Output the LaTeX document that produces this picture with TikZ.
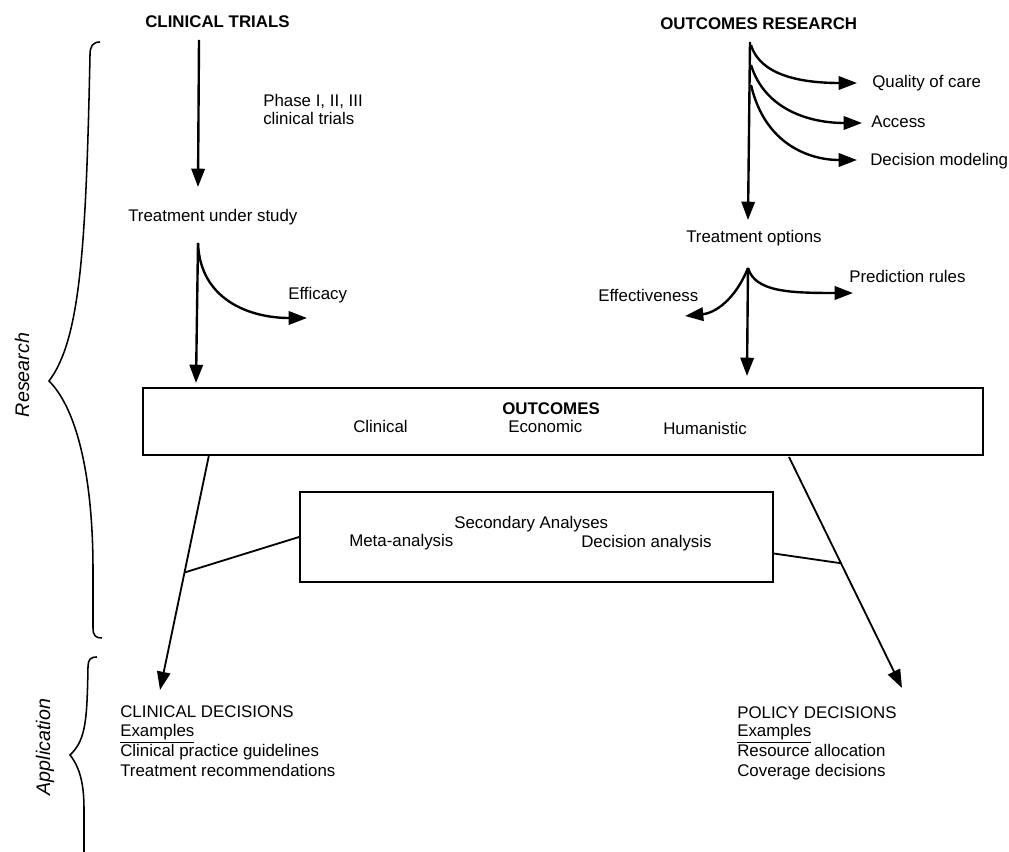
\documentclass[tikz,border=0pt]{standalone}
\usepackage{fontspec}
\setmainfont{Liberation Sans}
\usetikzlibrary{arrows.meta, calc}

\tikzset{
  txt/.style={inner sep=0pt, anchor=base west, font=\fontsize{12}{14}\selectfont},
  head/.style={txt, font=\fontsize{12}{14}\selectfont\bfseries},
  side/.style={inner sep=0pt, rotate=90, font=\fontsize{14}{16}\selectfont\itshape},
  flow/.style={line width=1.7pt, -{Triangle[length=13pt, width=9.5pt]}},
  link/.style={line width=1.3pt},
  brace/.style={line width=1.1pt},
  panel/.style={draw, line width=1.3pt, inner sep=0pt},
}

\begin{document}
\begin{tikzpicture}[x=0.025cm, y=-0.025cm]
\useasboundingbox (0,0) rectangle (1009,852);

% headings
\node[head] (trials) at (145,28) {CLINICAL TRIALS};
\node[head] (ores) at (660,30) {OUTCOMES RESEARCH};

% left column
\node[txt] (phase) at (263,107) {Phase I, II, III};
\node[txt] (phaseb) at (263,125) {clinical trials};
\node[txt] (study) at (128,222) {Treatment under study};
\node[txt] (efficacy) at (288,300) {Efficacy};

% right column
\node[txt] (quality) at (872,88) {Quality of care};
\node[txt] (access) at (871,128) {Access};
\node[txt] (model) at (870,166) {Decision modeling};
\node[txt] (options) at (686,243) {Treatment options};
\node[txt] (predict) at (849,283) {Prediction rules};
\node[txt] (effect) at (598,302) {Effectiveness};

% boxes
\node[panel, minimum width=21cm, minimum height=1.675cm] (outbox) at (563,421.5) {};
\node[head] (outc) at (502,415) {OUTCOMES};
\node[txt] (clin) at (353,433) {Clinical};
\node[txt] (econ) at (508,433) {Economic};
\node[txt] (human) at (663,435) {Humanistic};

\node[panel, minimum width=11.825cm, minimum height=2.25cm] (secbox) at (536.5,537) {};
\node[txt] (second) at (454,529) {Secondary Analyses};
\node[txt] (meta) at (349,547) {Meta-analysis};
\node[txt] (danal) at (581,548) {Decision analysis};

% decisions
\node[txt] (cdec) at (120,718) {CLINICAL DECISIONS};
\node[txt] (cex) at (120,737) {\underline{Examples}};
\node[txt] (cgl) at (120,757) {Clinical practice guidelines};
\node[txt] (crec) at (120,777) {Treatment recommendations};

\node[txt] (pdec) at (737,719) {POLICY DECISIONS};
\node[txt] (pex) at (737,737) {\underline{Examples}};
\node[txt] (pres) at (737,757) {Resource allocation};
\node[txt] (pcov) at (737,777) {Coverage decisions};

% side labels
\node[side] (research) at (22,375) {Research};
\node[side] (applic) at (45,747) {Application};

% connector ends
\coordinate (ctop) at (199,40);
\coordinate (cmid) at (198,187);
\coordinate (cstart) at (198,243);
\coordinate (cend) at (196,383);
\coordinate (otop) at (750,42);
\coordinate (omid) at (748,220);
\coordinate (ostart) at (748,268);
\coordinate (oend) at (747,376);
\coordinate (lout) at (209,455);
\coordinate (lin) at (160,690);
\coordinate (rout) at (789,457);
\coordinate (rin) at (902,688);

% arrows
\draw[flow] (ctop) -- (cmid);
\draw[flow] (cstart) -- (cend);
\draw[flow] (cstart) .. controls (200,300) and (250,318) .. (307,318);

\draw[flow] (otop) -- (omid);
\draw[flow] (751,45) .. controls (760,75) and (800,83) .. (857,83);
\draw[flow] (751,65) .. controls (765,110) and (810,123) .. (862,123);
\draw[flow] (751,85) .. controls (765,145) and (810,160) .. (857,160);

\draw[flow] (ostart) -- (oend);
\draw[flow] (ostart) .. controls (755,292) and (790,293) .. (853,293);
\draw[flow] (ostart) .. controls (735,300) and (715,313) .. (685,316);

\draw[flow, line width=1.3pt] (lout) -- (lin);
\draw[flow, line width=1.3pt] (rout) -- (rin);
\draw[link] ($(lout)!0.5!(lin)$) -- (secbox.west);
\draw[link] ($(rout)!0.46!(rin)$) -- ($(secbox.south east)!0.32!(secbox.north east)$);

% braces
\draw[brace] (100,42) .. controls (93,42) and (90,46) .. (90,55)
  .. controls (86,250) and (80,340) .. (49,381)
  .. controls (78,410) and (93,480) .. (93,570) -- (93,628)
  .. controls (93,636) and (96,638) .. (102,638);
\draw[brace] (97,657) .. controls (90,657) and (88,660) .. (88,667)
  .. controls (87,720) and (86,740) .. (70,755)
  .. controls (82,770) and (84,790) .. (84,810) -- (84,852);
\end{tikzpicture}
\end{document}
